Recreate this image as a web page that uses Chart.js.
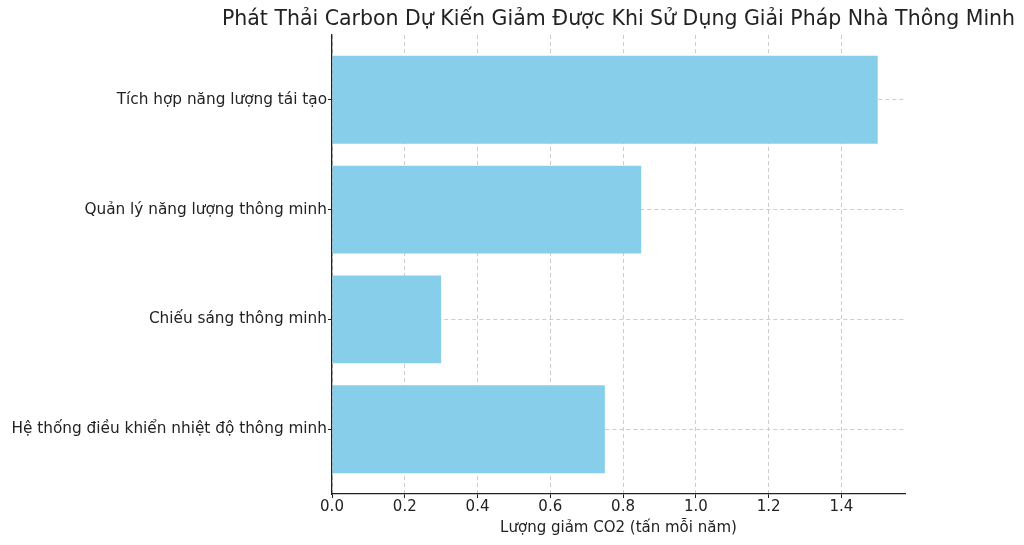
<!DOCTYPE html>
<html>
<head>
<meta charset="utf-8">
<script src="https://cdn.jsdelivr.net/npm/chart.js@4"></script>
<style>
  html, body { margin: 0; padding: 0; background: #fff; }
  #wrap { width: 1024px; height: 545px; }
</style>
</head>
<body>
<div id="wrap"><canvas id="barChart" width="1024" height="545"></canvas></div>
<script>
// du lieu doc tu hinh
var categories = [
  "Tích hợp năng lượng tái tạo",
  "Quản lý năng lượng thông minh",
  "Chiếu sáng thông minh",
  "Hệ thống điều khiển nhiệt độ thông minh"
];
var values = [1.5, 0.85, 0.3, 0.75];
var xTicks = [0.0, 0.2, 0.4, 0.6, 0.8, 1.0, 1.2, 1.4];
var chartTitle = "Phát Thải Carbon Dự Kiến Giảm Được Khi Sử Dụng Giải Pháp Nhà Thông Minh";

var points = [];
for (var i in values) {
  points.push({ x: values[i], y: Number(i) });
}

var font = "'DejaVu Sans', sans-serif";
Chart.defaults.font.family = font;
Chart.defaults.color = "#222";

// titulo centrado sobre el area del grafico
var titlePlugin = {
  id: 'plotTitle',
  afterDraw: function (chart) {
    var ctx = chart.ctx, a = chart.chartArea;
    ctx.save();
    ctx.font = "20.5px " + font;
    ctx.fillStyle = "#222";
    ctx.textAlign = "center";
    ctx.textBaseline = "middle";
    ctx.fillText(chartTitle, (a.left + a.right) / 2, 20);
    ctx.restore();
  }
};

var graphTarget = document.getElementById("barChart");

var barGraph = new Chart(graphTarget, {
  type: 'bar',
  data: {
    datasets: [{
      data: points,
      backgroundColor: "#87CEEB",
      borderWidth: 0,
      categoryPercentage: 1,
      barPercentage: 0.8
    }]
  },
  plugins: [titlePlugin],
  options: {
    indexAxis: 'y',
    responsive: false,
    animation: false,
    layout: { padding: { top: 35, right: 119, bottom: 0, left: 0 } },
    plugins: {
      legend: { display: false },
      tooltip: { enabled: false },
      title: { display: false }
    },
    scales: {
      x: {
        type: 'linear',
        min: 0,
        max: 1.575,
        afterBuildTicks: function (axis) {
          axis.ticks = xTicks.map(function (v) { return { value: v }; });
        },
        ticks: {
          callback: function (v) { return v.toFixed(1); },
          font: { size: 15 },
          color: "#222",
          padding: 0,
          maxRotation: 0
        },
        grid: {
          color: "#cccccc",
          tickLength: 4,
          tickColor: "#222",
          tickBorderDash: []
        },
        border: { display: true, color: "#222", width: 1.3, dash: [4, 3] },
        title: {
          display: true,
          text: "Lượng giảm CO2 (tấn mỗi năm)",
          font: { size: 15 },
          color: "#222",
          padding: { top: 3, bottom: 8 }
        }
      },
      y: {
        type: 'linear',
        reverse: true,
        offset: false,
        min: -0.59,
        max: 3.59,
        afterBuildTicks: function (axis) {
          axis.ticks = categories.map(function (c, k) { return { value: k }; });
        },
        afterFit: function (axis) { axis.width = 332; },
        ticks: {
          callback: function (v) { return categories[v]; },
          font: { size: 15.3 },
          color: "#222",
          padding: 1
        },
        grid: {
          offset: false,
          color: "#cccccc",
          tickLength: 4,
          tickColor: "#222",
          tickBorderDash: []
        },
        border: { display: true, color: "#222", width: 1.3, dash: [4, 3] }
      }
    }
  }
});
</script>
</body>
</html>
